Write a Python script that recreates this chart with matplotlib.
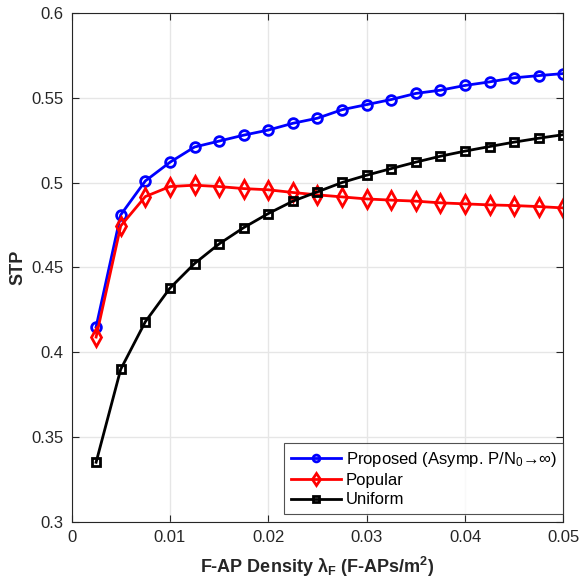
import matplotlib

matplotlib.use("Agg")
import matplotlib.pyplot as plt
import numpy as np

plt.rcParams["font.family"] = ["Liberation Sans", "DejaVu Sans"]
plt.rcParams["mathtext.fontset"] = "custom"
plt.rcParams["mathtext.rm"] = "Liberation Sans"
plt.rcParams["mathtext.it"] = "Liberation Sans:italic"
plt.rcParams["mathtext.bf"] = "Liberation Sans:bold"

density = [0.0025, 0.005, 0.0075, 0.01, 0.0125, 0.015, 0.0175, 0.02, 0.0225, 0.025,
           0.0275, 0.03, 0.0325, 0.035, 0.0375, 0.04, 0.0425, 0.045, 0.0475, 0.05]
proposed = [0.415, 0.481, 0.501, 0.512, 0.521, 0.5245, 0.528, 0.531, 0.535, 0.538,
            0.543, 0.546, 0.549, 0.5526, 0.5545, 0.5573, 0.5594, 0.5618, 0.5631, 0.5643]
popular = [0.409, 0.4745, 0.4918, 0.4977, 0.4985, 0.4977, 0.4965, 0.4958, 0.4942, 0.4928,
           0.4916, 0.4904, 0.4897, 0.4891, 0.4881, 0.4875, 0.4869, 0.4865, 0.4859, 0.4851]
uniform = [0.3352, 0.390, 0.418, 0.4378, 0.4523, 0.4639, 0.4735, 0.4818, 0.4891, 0.4946,
           0.5001, 0.5044, 0.5083, 0.5121, 0.5156, 0.5186, 0.5213, 0.5239, 0.5262, 0.5283]

fig = plt.figure(figsize=(5.79, 5.85), dpi=100)
ax = fig.add_axes([0.1235, 0.1077, 0.8497, 0.8701])

ax.plot(density, proposed, color="blue", linewidth=2, marker="o", markersize=7,
        markerfacecolor="none", markeredgewidth=2, label="Proposed (Asymp. P/N$_0$→∞)")
ax.plot(density, popular, color="red", linewidth=2, marker="d", markersize=9,
        markerfacecolor="none", markeredgewidth=2, label="Popular")
ax.plot(density, uniform, color="black", linewidth=2, marker="s", markersize=6,
        markerfacecolor="none", markeredgewidth=2, label="Uniform")

ax.set_xlim(0, 0.05)
ax.set_ylim(0.3, 0.6)
ax.set_xticks([0, 0.01, 0.02, 0.03, 0.04, 0.05])
ax.set_xticklabels(["0", "0.01", "0.02", "0.03", "0.04", "0.05"])
ax.set_yticks([0.3, 0.35, 0.4, 0.45, 0.5, 0.55, 0.6])
ax.set_yticklabels(["0.3", "0.35", "0.4", "0.45", "0.5", "0.55", "0.6"])
ax.tick_params(direction="in", top=True, right=True, labelsize=12, colors="#262626",
               length=5, pad=6)
ax.tick_params(axis="y", pad=5.5)
ax.grid(True, color="#e6e6e6", linewidth=1)
ax.set_axisbelow(True)
for s in ax.spines.values():
    s.set_color("#262626")
    s.set_linewidth(0.8)

ax.set_xlabel(r"F-AP Density $\mathbf{\lambda_F}$ (F-APs/m$\mathbf{^2}$)", fontsize=13,
              fontweight="bold", color="#262626", labelpad=7)
ax.set_ylabel("STP", fontsize=13, fontweight="bold", color="#262626", labelpad=4)

leg = ax.legend(loc="lower right", bbox_to_anchor=(1.0, 0.0157), borderaxespad=0,
                fontsize=12, frameon=True, fancybox=False, edgecolor="#262626",
                handlelength=3.0, labelspacing=0.25, markerscale=0.7,
                handletextpad=0.3, borderpad=0.4)
leg.get_frame().set_linewidth(0.8)

fig.savefig("out.png", dpi=100)
